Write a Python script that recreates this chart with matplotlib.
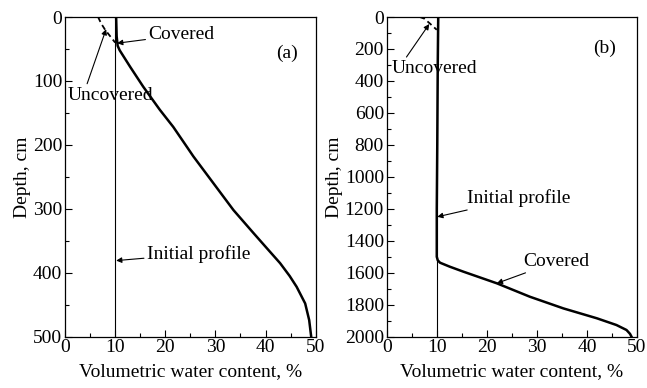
import matplotlib
matplotlib.use("Agg")
import matplotlib.pyplot as plt
from matplotlib.ticker import MultipleLocator

plt.rcParams["font.family"] = ["Liberation Serif", "DejaVu Serif"]
plt.rcParams["font.size"] = 14

# ---------------------------------------------------------------------------
# Data (water content %, depth cm)
# ---------------------------------------------------------------------------
# Panel (a): 500 cm column
a_covered_theta = [10.2, 10.3, 10.5, 10.9, 13.0, 15.6, 18.9, 21.6, 24.3, 25.6,
                   29.6, 33.6, 37.6, 40.3, 42.9, 44.8, 46.2, 47.9, 48.7, 49.1]
a_covered_depth = [0, 30, 45, 52, 78, 109, 145, 172, 203, 218,
                   260, 302, 338, 362, 385, 405, 422, 448, 474, 500]
a_uncov_theta = [6.6, 7.2, 8.0, 8.5, 9.2, 10.0]
a_uncov_depth = [0, 10, 20, 25, 32, 40]

# Panel (b): 2000 cm column
b_covered_theta = [10.3, 10.2, 10.1, 10.0, 10.0, 10.2, 10.65, 12.6, 15.3, 22.0,
                   28.6, 35.3, 42.0, 45.9, 47.9, 48.6, 48.9]
b_covered_depth = [0, 300, 800, 1200, 1500, 1522, 1537, 1562, 1593, 1666,
                   1750, 1823, 1885, 1927, 1958, 1982, 2000]
b_uncov_theta = [6.6, 7.5, 8.6, 9.3, 10.0]
b_uncov_depth = [0, 10, 40, 60, 80]

initial_theta = 10.0


def style_axis(ax, ymax, ymajor):
    ax.set_xlim(0, 50)
    ax.set_ylim(ymax, 0)
    ax.xaxis.set_major_locator(MultipleLocator(10))
    ax.xaxis.set_minor_locator(MultipleLocator(5))
    ax.yaxis.set_major_locator(MultipleLocator(ymajor))
    ax.yaxis.set_minor_locator(MultipleLocator(ymajor / 2))
    ax.tick_params(which="both", direction="in", top=False, right=False)
    ax.tick_params(which="major", length=5, width=0.8, pad=2)
    ax.tick_params(which="minor", length=3, width=0.8)
    for s in ax.spines.values():
        s.set_linewidth(0.9)
    ax.set_xlabel("Volumetric water content, %", labelpad=5)
    ax.set_ylabel("Depth, cm", labelpad=1)


arrow = dict(arrowstyle="-|>", color="black", lw=0.8, mutation_scale=8,
             shrinkA=0, shrinkB=0)

fig = plt.figure(figsize=(6.47, 3.88), dpi=100)
ax_a = fig.add_axes([65 / 647, 1 - 336.7 / 388, 250.7 / 647, 319.7 / 388])
ax_b = fig.add_axes([386.7 / 647, 1 - 336.7 / 388, 250.3 / 647, 319.7 / 388])

# (a)
ax_a.axvline(initial_theta, color="black", lw=0.8)
ax_a.plot(a_covered_theta, a_covered_depth, color="black", lw=1.8)
ax_a.plot(a_uncov_theta, a_uncov_depth, color="black", lw=1.3, ls=(0, (3, 2)))
style_axis(ax_a, 500, 100)
ax_a.annotate("Covered", xy=(10.4, 41), xytext=(16.6, 28), va="center",
              arrowprops=arrow)
ax_a.annotate("Uncovered", xy=(8.2, 19), xytext=(9.0, 122), ha="center",
              va="center", arrowprops=dict(arrow, relpos=(0.22, 1.0)))
ax_a.annotate("Initial profile", xy=(10.2, 381), xytext=(16.3, 370),
              va="center", arrowprops=arrow)
ax_a.text(44.3, 57, "(a)", ha="center", va="center")

# (b)
ax_b.axvline(initial_theta, color="black", lw=0.8)
ax_b.plot(b_covered_theta, b_covered_depth, color="black", lw=1.8)
ax_b.plot(b_uncov_theta, b_uncov_depth, color="black", lw=1.3, ls=(0, (3, 2)))
style_axis(ax_b, 2000, 200)
ax_b.annotate("Uncovered", xy=(8.5, 44), xytext=(1.0, 321), va="center",
              arrowprops=dict(arrow, relpos=(0.15, 1.0)))
ax_b.annotate("Initial profile", xy=(10.1, 1250), xytext=(16.0, 1134),
              va="center", arrowprops=arrow)
ax_b.annotate("Covered", xy=(22.0, 1666), xytext=(27.3, 1530), va="center",
              arrowprops=arrow)
ax_b.text(43.6, 196, "(b)", ha="center", va="center")

fig.savefig("out.png", dpi=100)
plt.close(fig)
